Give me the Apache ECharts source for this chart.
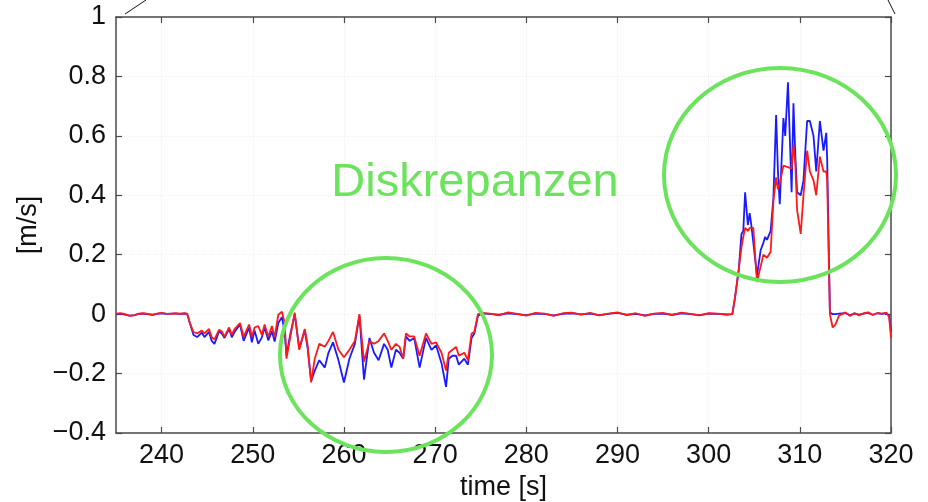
<!DOCTYPE html>
<html><head><meta charset="utf-8">
<script src="https://cdn.jsdelivr.net/npm/echarts@6/dist/echarts.min.js"></script>
<style>html,body{margin:0;padding:0;background:#fff}#c{width:928px;height:502px}</style>
</head><body><div id="c"></div>
<script>
const xTicks = [240,250,260,270,280,290,300,310,320];
const yTicks = [-0.4,-0.2,0,0.2,0.4,0.6,0.8,1];
const time = [
235,235.5,236,236.5,237,237.5,238,238.5,239,239.5,240,240.5,241,241.5,242,242.5,242.8,
243.1,243.5,243.9,244.4,244.7,245.2,245.5,245.8,246.3,246.6,246.9,247.4,247.7,248,248.6,249,249.6,249.9,250.2,250.6,251,251.3,251.7,252.1,252.4,252.8,253.2,
253.5,253.7,254.1,254.6,255.1,255.7,256,256.4,256.8,257.3,257.9,258.3,258.8,259.4,260,260.6,261.2,261.7,262.2,262.8,263.3,263.8,264.4,264.8,265.2,265.7,266.1,266.5,266.8,267.2,267.7,268.3,269,269.6,270.1,270.7,271.2,271.5,271.9,272.3,272.6,273.2,273.6,274,274.3,274.7,
275.2,276,277,278,279,280,281,282,283,284,285,286,287,288,289,290,291,292,293,294,295,296,297,298,299,300,301,302,302.6,
302.9,303.3,303.6,303.8,304,304.3,304.5,304.7,304.9,305.3,305.7,306,306.2,306.4,306.8,307.1,307.4,307.6,307.8,308.2,308.4,308.7,309.1,309.3,309.5,309.7,310.1,310.4,310.8,311.1,311.5,311.8,312.2,312.6,312.9,313,
313.3,313.6,313.9,314.3,315,315.5,316,316.5,317,317.5,318,318.5,319,319.5,319.8,320
];
const red = [
0.002,0.003,0,-0.006,-0.004,0.002,0.003,0.001,-0.003,0.002,0.004,0.002,0.001,0.003,0.002,0.003,0.002,
-0.03,-0.06,-0.065,-0.055,-0.065,-0.05,-0.078,-0.085,-0.053,-0.058,-0.076,-0.045,-0.07,-0.05,-0.03,-0.076,-0.035,-0.076,-0.045,-0.04,-0.07,-0.035,-0.076,-0.04,-0.078,-0.002,0.008,
-0.03,-0.15,-0.08,0.005,-0.12,-0.05,-0.1,-0.23,-0.15,-0.1,-0.11,-0.09,-0.06,-0.12,-0.145,-0.12,-0.09,0,-0.16,-0.09,-0.1,-0.09,-0.065,-0.09,-0.12,-0.1,-0.11,-0.15,-0.065,-0.075,-0.075,-0.14,-0.065,-0.1,-0.095,-0.13,-0.19,-0.13,-0.12,-0.11,-0.14,-0.13,-0.155,-0.065,-0.06,0,
0.004,0.002,-0.004,0.006,0.001,-0.005,0.004,0.002,-0.006,0.003,0.005,-0.002,0.004,-0.004,0.002,0.006,-0.003,0.003,-0.006,0.002,0.004,-0.003,0.005,0.001,-0.004,0.003,0.002,-0.002,0,
0.057,0.15,0.225,0.26,0.29,0.28,0.29,0.295,0.29,0.108,0.16,0.2,0.205,0.19,0.21,0.38,0.46,0.42,0.44,0.5,0.5,0.495,0.49,0.57,0.51,0.35,0.27,0.4,0.55,0.48,0.45,0.4,0.53,0.48,0.48,0.45,
0,-0.045,-0.035,-0.005,0.006,-0.006,0.004,-0.004,0.003,0.006,-0.003,0.004,0.002,0.005,-0.01,-0.08
];
const blue = [
0,0.001,-0.002,-0.005,-0.003,0.001,0.002,0,-0.002,0.001,0.003,0.001,0.002,0.002,0.001,0.002,0.001,
-0.03,-0.07,-0.077,-0.062,-0.077,-0.06,-0.09,-0.1,-0.058,-0.065,-0.08,-0.05,-0.078,-0.06,-0.035,-0.09,-0.045,-0.095,-0.055,-0.1,-0.078,-0.045,-0.088,-0.058,-0.092,-0.03,-0.01,
-0.06,-0.14,-0.07,0,-0.115,-0.055,-0.11,-0.225,-0.19,-0.155,-0.18,-0.13,-0.095,-0.155,-0.23,-0.15,-0.1,-0.005,-0.22,-0.08,-0.13,-0.155,-0.1,-0.12,-0.18,-0.12,-0.13,-0.15,-0.075,-0.09,-0.08,-0.18,-0.08,-0.12,-0.105,-0.165,-0.245,-0.15,-0.14,-0.14,-0.17,-0.15,-0.17,-0.08,-0.065,-0.005,
0.002,0.001,-0.002,0.003,0,-0.003,0.002,0.001,-0.004,0.001,0.003,-0.001,0.002,-0.003,0.001,0.004,-0.002,0.001,-0.004,0.001,0.002,-0.002,0.003,0,-0.003,0.002,0.001,-0.001,0,
0.057,0.15,0.27,0.28,0.41,0.3,0.34,0.295,0.29,0.13,0.215,0.24,0.26,0.25,0.28,0.39,0.67,0.48,0.37,0.66,0.6,0.78,0.41,0.71,0.54,0.41,0.4,0.45,0.65,0.65,0.6,0.48,0.65,0.55,0.61,0.52,
0.005,0,0,0.002,0.003,-0.003,0.002,-0.002,0.002,0.004,-0.002,0.003,0.001,0.003,-0.005,-0.06
];

const fmt = v => String(Math.round(v * 10) / 10).replace('-', '\u2212');
const FONT = 'Liberation Sans';
const FS = 27;
const frame = { show: true, onZero: false, lineStyle: { color: '#4a4a4a', width: 1.5 } };
const tickIn = { show: true, inside: true, length: 6, lineStyle: { color: '#4a4a4a', width: 1.2 } };
const xTickIn = Object.assign({}, tickIn, { customValues: xTicks });
const grid = { show: true, lineStyle: { color: '#f0f0f0', type: 'dotted', width: 1 } };
const ellipseStyle = { fill: 'none', stroke: '#6be35c', lineWidth: 4 };

const chart = echarts.init(document.getElementById('c'), null, { renderer: 'canvas' });
chart.setOption({
  backgroundColor: '#fff',
  animation: false,
  grid: { left: 116, right: 37, top: 17, bottom: 69, outerBoundsMode: 'none', containLabel: false },
  xAxis: [
    { type: 'value', min: 235, max: 320, position: 'bottom',
      name: 'time [s]', nameLocation: 'middle', nameGap: 40,
      nameTextStyle: { fontFamily: FONT, fontSize: FS, color: '#111' },
      axisLine: frame, axisTick: xTickIn, splitLine: grid,
      axisLabel: { fontFamily: FONT, fontSize: FS, color: '#111', margin: 9,
        customValues: xTicks, formatter: fmt } },
    { type: 'value', min: 235, max: 320, position: 'top',
      axisLine: frame, axisTick: xTickIn, axisLabel: { show: false, customValues: xTicks }, splitLine: { show: false } }
  ],
  yAxis: [
    { type: 'value', min: -0.4, max: 1, interval: 0.2, position: 'left',
      name: '[m/s]', nameLocation: 'middle', nameGap: 72, nameRotate: 90,
      nameTextStyle: { fontFamily: FONT, fontSize: FS, color: '#111' },
      axisLine: frame, axisTick: tickIn, splitLine: grid,
      axisLabel: { fontFamily: FONT, fontSize: FS, color: '#111', margin: 10, formatter: fmt } },
    { type: 'value', min: -0.4, max: 1, interval: 0.2, position: 'right',
      axisLine: frame, axisTick: tickIn, axisLabel: { show: false }, splitLine: { show: false } }
  ],
  series: [
    { type: 'line', name: 'blue', data: time.map((t, i) => [t, blue[i]]), showSymbol: false,
      lineStyle: { color: '#1a1aff', width: 1.8 }, z: 3 },
    { type: 'line', name: 'red', data: time.map((t, i) => [t, red[i]]), showSymbol: false,
      lineStyle: { color: '#ff1a1a', width: 1.8 }, z: 4 }
  ],
  graphic: [
    { type: 'ellipse', shape: { cx: 386, cy: 355, rx: 106, ry: 97 }, style: ellipseStyle, z: 100 },
    { type: 'ellipse', shape: { cx: 780, cy: 175, rx: 116, ry: 107 }, style: ellipseStyle, z: 100 },
    { type: 'text', x: 475, y: 183, z: 100,
      style: { text: 'Diskrepanzen', fill: '#6be35c', font: '47px "Liberation Sans"', align: 'center', verticalAlign: 'middle' } },
    { type: 'line', shape: { x1: 125, y1: 14, x2: 146, y2: 0 }, style: { stroke: '#111', lineWidth: 1 }, z: 100 },
    { type: 'line', shape: { x1: 888, y1: 0, x2: 895, y2: 14 }, style: { stroke: '#111', lineWidth: 1 }, z: 100 }
  ]
});
</script></body></html>
